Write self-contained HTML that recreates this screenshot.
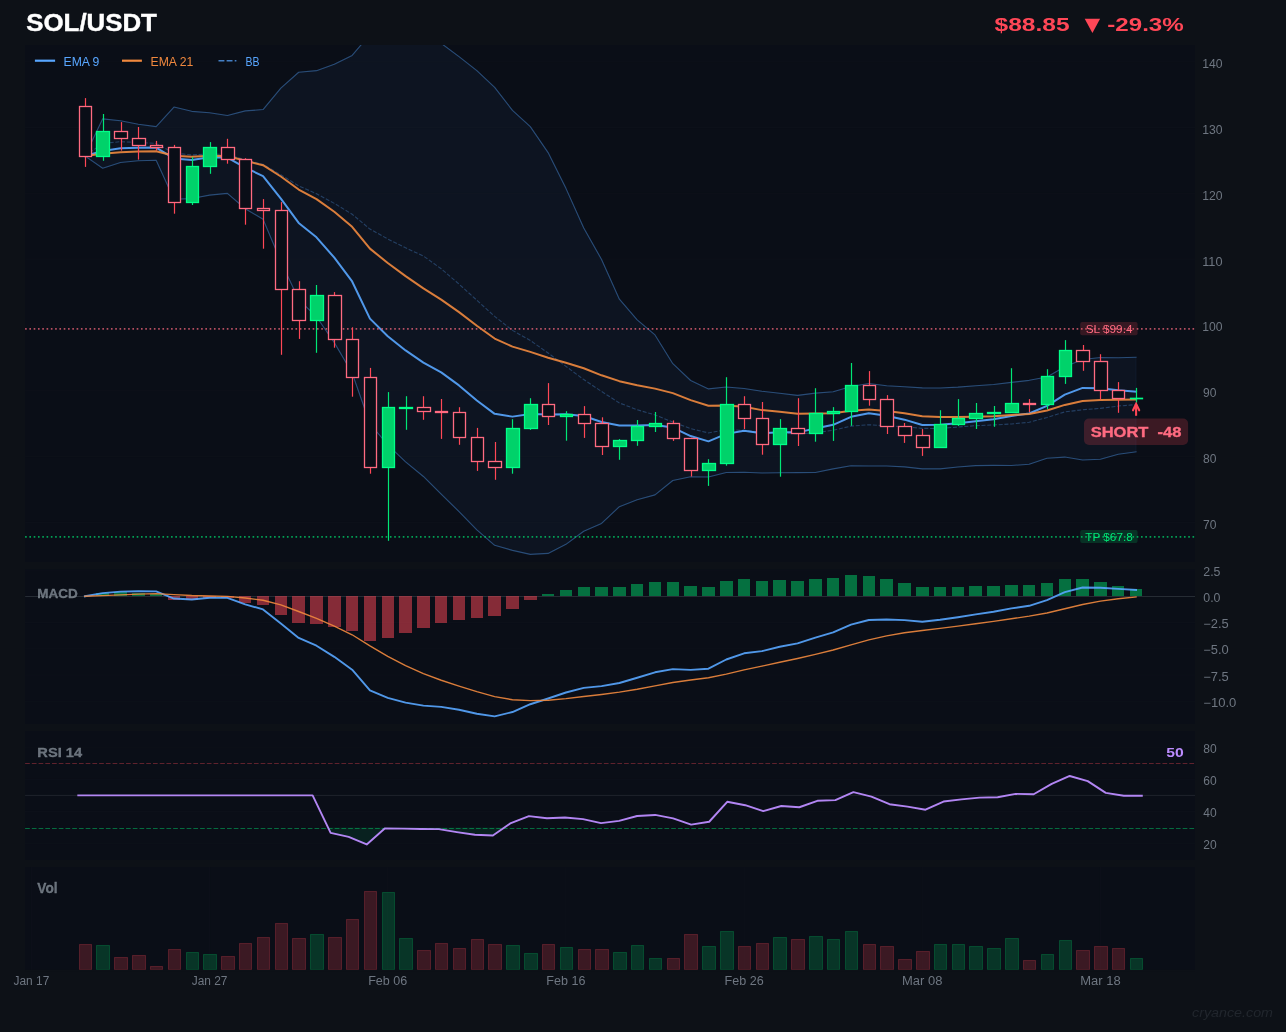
<!DOCTYPE html>
<html><head><meta charset="utf-8"><title>SOL/USDT</title>
<style>html,body{margin:0;padding:0;background:#0d1117;}svg{display:block;will-change:transform}</style></head>
<body>
<svg width="1286" height="1032" viewBox="0 0 1286 1032" font-family="Liberation Sans, sans-serif">
<rect width="1286" height="1032" fill="#0d1117"/>
<rect x="25" y="45" width="1170" height="517" fill="#0a0e17"/>
<rect x="25" y="569" width="1170" height="155" fill="#0a0e17"/>
<rect x="25" y="731" width="1170" height="129" fill="#0a0e17"/>
<rect x="25" y="867" width="1170" height="103" fill="#0a0e17"/>
<line x1="25.1" x2="1195.0" y1="522.37" y2="522.37" stroke="#0e121b" stroke-width="0.8"/>
<text x="1203" y="528.87" font-size="12" fill="#6e7681" textLength="13.4" lengthAdjust="spacingAndGlyphs">70</text>
<line x1="25.1" x2="1195.0" y1="456.57" y2="456.57" stroke="#0e121b" stroke-width="0.8"/>
<text x="1203" y="463.07" font-size="12" fill="#6e7681" textLength="13.4" lengthAdjust="spacingAndGlyphs">80</text>
<line x1="25.1" x2="1195.0" y1="390.76" y2="390.76" stroke="#0e121b" stroke-width="0.8"/>
<text x="1203" y="397.26" font-size="12" fill="#6e7681" textLength="13.4" lengthAdjust="spacingAndGlyphs">90</text>
<line x1="25.1" x2="1195.0" y1="324.95" y2="324.95" stroke="#0e121b" stroke-width="0.8"/>
<text x="1202.2" y="331.45" font-size="12" fill="#6e7681" textLength="20.3" lengthAdjust="spacingAndGlyphs">100</text>
<line x1="25.1" x2="1195.0" y1="259.14" y2="259.14" stroke="#0e121b" stroke-width="0.8"/>
<text x="1202.2" y="265.64" font-size="12" fill="#6e7681" textLength="20.3" lengthAdjust="spacingAndGlyphs">110</text>
<line x1="25.1" x2="1195.0" y1="193.34" y2="193.34" stroke="#0e121b" stroke-width="0.8"/>
<text x="1202.2" y="199.84" font-size="12" fill="#6e7681" textLength="20.3" lengthAdjust="spacingAndGlyphs">120</text>
<line x1="25.1" x2="1195.0" y1="127.53" y2="127.53" stroke="#0e121b" stroke-width="0.8"/>
<text x="1202.2" y="134.03" font-size="12" fill="#6e7681" textLength="20.3" lengthAdjust="spacingAndGlyphs">130</text>
<line x1="25.1" x2="1195.0" y1="61.72" y2="61.72" stroke="#0e121b" stroke-width="0.8"/>
<text x="1202.2" y="68.22" font-size="12" fill="#6e7681" textLength="20.3" lengthAdjust="spacingAndGlyphs">140</text>
<clipPath id="cm"><rect x="25.1" y="45.1" width="1169.9" height="516.8"/></clipPath>
<g clip-path="url(#cm)">
<path d="M84.88 155.9 L102.69 118.85 L120.51 120.81 L138.33 124.18 L156.14 126.63 L173.96 107.01 L191.78 111.34 L209.59 112.76 L227.41 115.53 L245.23 110.89 L263.04 109.54 L280.86 88.1 L298.68 72.27 L316.49 70.66 L334.31 64.15 L352.13 55.41 L369.95 34.42 L387.76 33.01 L405.58 33.73 L423.4 35.51 L441.21 43.37 L459.03 56.57 L476.85 70.65 L494.66 87.43 L512.48 110.41 L530.3 126.59 L548.11 152.59 L565.93 188.37 L583.75 227.92 L601.56 259.5 L619.38 299.23 L637.2 319.87 L655.01 334.95 L672.83 363.67 L690.65 380.49 L708.46 388.9 L726.28 386.94 L744.1 388.44 L761.91 391.26 L779.73 393.18 L797.55 395.42 L815.37 393.13 L833.18 391.71 L851 386.58 L868.82 383.43 L886.63 385.69 L904.45 386.7 L922.27 387.92 L940.08 387.98 L957.9 387.13 L975.72 385.74 L993.53 384.57 L1011.35 382.42 L1029.17 380.33 L1046.98 376.92 L1064.8 366.72 L1082.62 359.49 L1100.43 357.53 L1118.25 357.8 L1136.07 357.24 L1136.07 451.88 L1118.25 454.32 L1100.43 459.2 L1082.62 460.03 L1064.8 457.08 L1046.98 458.18 L1029.17 464.2 L1011.35 465.55 L993.53 465.4 L975.72 465.63 L957.9 466.94 L940.08 468.92 L922.27 468.9 L904.45 466.85 L886.63 465.97 L868.82 466 L851 465.72 L833.18 468.84 L815.37 472.48 L797.55 472.65 L779.73 472.79 L761.91 473.04 L744.1 472.18 L726.28 472.56 L708.46 476.93 L690.65 476.76 L672.83 480.49 L655.01 494.88 L637.2 499.68 L619.38 506.67 L601.56 523.43 L583.75 531.21 L565.93 544.34 L548.11 553.41 L530.3 554.37 L512.48 550.36 L494.66 545.3 L476.85 529.85 L459.03 511.61 L441.21 494.2 L423.4 476.46 L405.58 461.91 L387.76 444.91 L369.95 423.77 L352.13 373.03 L334.31 342.61 L316.49 316.73 L298.68 299.56 L280.86 261.4 L263.04 219.17 L245.23 208.71 L227.41 193.38 L209.59 195.09 L191.78 198.58 L173.96 199.29 L156.14 160.21 L138.33 160.72 L120.51 162.53 L102.69 168.25 L84.88 155.9Z" fill="#58a6ff" fill-opacity="0.045" stroke="#58a6ff" stroke-opacity="0.045" stroke-width="1.4"/>
<path d="M84.88 155.9 L102.69 118.85 L120.51 120.81 L138.33 124.18 L156.14 126.63 L173.96 107.01 L191.78 111.34 L209.59 112.76 L227.41 115.53 L245.23 110.89 L263.04 109.54 L280.86 88.1 L298.68 72.27 L316.49 70.66 L334.31 64.15 L352.13 55.41 L369.95 34.42 L387.76 33.01 L405.58 33.73 L423.4 35.51 L441.21 43.37 L459.03 56.57 L476.85 70.65 L494.66 87.43 L512.48 110.41 L530.3 126.59 L548.11 152.59 L565.93 188.37 L583.75 227.92 L601.56 259.5 L619.38 299.23 L637.2 319.87 L655.01 334.95 L672.83 363.67 L690.65 380.49 L708.46 388.9 L726.28 386.94 L744.1 388.44 L761.91 391.26 L779.73 393.18 L797.55 395.42 L815.37 393.13 L833.18 391.71 L851 386.58 L868.82 383.43 L886.63 385.69 L904.45 386.7 L922.27 387.92 L940.08 387.98 L957.9 387.13 L975.72 385.74 L993.53 384.57 L1011.35 382.42 L1029.17 380.33 L1046.98 376.92 L1064.8 366.72 L1082.62 359.49 L1100.43 357.53 L1118.25 357.8 L1136.07 357.24" fill="none" stroke="#58a6ff" stroke-opacity="0.38" stroke-width="1.1" stroke-linejoin="round" stroke-linecap="square"/>
<path d="M84.88 155.9 L102.69 168.25 L120.51 162.53 L138.33 160.72 L156.14 160.21 L173.96 199.29 L191.78 198.58 L209.59 195.09 L227.41 193.38 L245.23 208.71 L263.04 219.17 L280.86 261.4 L298.68 299.56 L316.49 316.73 L334.31 342.61 L352.13 373.03 L369.95 423.77 L387.76 444.91 L405.58 461.91 L423.4 476.46 L441.21 494.2 L459.03 511.61 L476.85 529.85 L494.66 545.3 L512.48 550.36 L530.3 554.37 L548.11 553.41 L565.93 544.34 L583.75 531.21 L601.56 523.43 L619.38 506.67 L637.2 499.68 L655.01 494.88 L672.83 480.49 L690.65 476.76 L708.46 476.93 L726.28 472.56 L744.1 472.18 L761.91 473.04 L779.73 472.79 L797.55 472.65 L815.37 472.48 L833.18 468.84 L851 465.72 L868.82 466 L886.63 465.97 L904.45 466.85 L922.27 468.9 L940.08 468.92 L957.9 466.94 L975.72 465.63 L993.53 465.4 L1011.35 465.55 L1029.17 464.2 L1046.98 458.18 L1064.8 457.08 L1082.62 460.03 L1100.43 459.2 L1118.25 454.32 L1136.07 451.88" fill="none" stroke="#58a6ff" stroke-opacity="0.38" stroke-width="1.1" stroke-linejoin="round" stroke-linecap="square"/>
<path d="M84.88 155.9 L102.69 143.55 L120.51 141.67 L138.33 142.45 L156.14 143.42 L173.96 153.15 L191.78 154.96 L209.59 153.92 L227.41 154.46 L245.23 159.8 L263.04 164.35 L280.86 174.75 L298.68 185.92 L316.49 193.69 L334.31 203.38 L352.13 214.22 L369.95 229.09 L387.76 238.96 L405.58 247.82 L423.4 255.99 L441.21 268.79 L459.03 284.09 L476.85 300.25 L494.66 316.37 L512.48 330.39 L530.3 340.48 L548.11 353 L565.93 366.35 L583.75 379.57 L601.56 391.46 L619.38 402.95 L637.2 409.77 L655.01 414.92 L672.83 422.08 L690.65 428.62 L708.46 432.92 L726.28 429.75 L744.1 430.31 L761.91 432.15 L779.73 432.98 L797.55 434.04 L815.37 432.81 L833.18 430.27 L851 426.15 L868.82 424.72 L886.63 425.83 L904.45 426.77 L922.27 428.41 L940.08 428.45 L957.9 427.03 L975.72 425.68 L993.53 424.98 L1011.35 423.99 L1029.17 422.26 L1046.98 417.55 L1064.8 411.9 L1082.62 409.76 L1100.43 408.36 L1118.25 406.06 L1136.07 404.56" fill="none" stroke="#58a6ff" stroke-opacity="0.3" stroke-width="1.1" stroke-dasharray="4 1.73"/>
<path d="M84.88 155.9 L102.69 150.96 L120.51 148.35 L138.33 147.64 L156.14 147.57 L173.96 158.42 L191.78 159.89 L209.59 157.25 L227.41 157.54 L245.23 167.61 L263.04 176.07 L280.86 198.68 L298.68 222.92 L316.49 237.3 L334.31 257.64 L352.13 281.47 L369.95 318.6 L387.76 336.22 L405.58 350.43 L423.4 362.57 L441.21 372.43 L459.03 385.41 L476.85 400.55 L494.66 413.86 L512.48 416.63 L530.3 414.04 L548.11 414.47 L565.93 414.34 L583.75 416.05 L601.56 422.02 L619.38 425.54 L637.2 425.55 L655.01 424.98 L672.83 427.6 L690.65 436.06 L708.46 441.37 L726.28 433.86 L744.1 430.66 L761.91 433.35 L779.73 432.24 L797.55 432.37 L815.37 428.44 L833.18 424.85 L851 416.8 L868.82 413.24 L886.63 415.79 L904.45 419.65 L922.27 425.02 L940.08 424.76 L957.9 423.33 L975.72 421.18 L993.53 419.27 L1011.35 415.95 L1029.17 413.5 L1046.98 405.92 L1064.8 394.66 L1082.62 387.93 L1100.43 388.34 L1118.25 390.27 L1136.07 391.78" fill="none" stroke="#58a6ff" stroke-opacity="0.9" stroke-width="2" stroke-linejoin="round" stroke-linecap="square"/>
<path d="M84.88 155.9 L102.69 153.65 L120.51 152.22 L138.33 151.55 L156.14 151.16 L173.96 155.76 L191.78 156.68 L209.59 155.77 L227.41 156.04 L245.23 160.75 L263.04 165.22 L280.86 176.48 L298.68 189.52 L316.49 199.09 L334.31 211.81 L352.13 226.81 L369.95 248.65 L387.76 263.02 L405.58 276.14 L423.4 288.41 L441.21 299.63 L459.03 312.15 L476.85 325.69 L494.66 338.55 L512.48 346.65 L530.3 351.84 L548.11 357.69 L565.93 362.79 L583.75 368.25 L601.56 375.31 L619.38 381.16 L637.2 385.2 L655.01 388.61 L672.83 393.11 L690.65 400.09 L708.46 405.77 L726.28 405.59 L744.1 406.71 L761.91 410.11 L779.73 411.72 L797.55 413.64 L815.37 413.56 L833.18 413.28 L851 410.67 L868.82 409.61 L886.63 411.1 L904.45 413.28 L922.27 416.3 L940.08 416.97 L957.9 417.03 L975.72 416.63 L993.53 416.17 L1011.35 414.95 L1029.17 413.92 L1046.98 410.44 L1064.8 404.91 L1082.62 400.92 L1100.43 399.93 L1118.25 399.75 L1136.07 399.57" fill="none" stroke="#f0883e" stroke-opacity="0.9" stroke-width="2" stroke-linejoin="round" stroke-linecap="square"/>
<line x1="25.1" x2="1195.0" y1="328.9" y2="328.9" stroke="#ff6b81" stroke-opacity="0.7" stroke-width="1.6" stroke-dasharray="1.62 2.672"/>
<line x1="25.1" x2="1195.0" y1="536.9" y2="536.9" stroke="#00d26a" stroke-opacity="0.75" stroke-width="1.6" stroke-dasharray="1.62 2.672"/>
<line x1="85.5" x2="85.5" y1="98.1" y2="166.9" stroke="#ff4757" stroke-width="1.2"/>
<rect x="79.5" y="106.5" width="12" height="50" fill="#0a0e17" stroke="#ff6b81" stroke-width="1.3"/>
<line x1="103.5" x2="103.5" y1="114" y2="160.8" stroke="#00e676" stroke-width="1.2"/>
<rect x="96.5" y="131.5" width="13" height="25" fill="#00d26a" stroke="#00ff88" stroke-width="1.3"/>
<line x1="121.5" x2="121.5" y1="122.1" y2="150.6" stroke="#ff4757" stroke-width="1.2"/>
<rect x="114.5" y="131.5" width="13" height="7" fill="#0a0e17" stroke="#ff6b81" stroke-width="1.3"/>
<line x1="138.5" x2="138.5" y1="127" y2="159.6" stroke="#ff4757" stroke-width="1.2"/>
<rect x="132.5" y="138.5" width="13" height="7" fill="#0a0e17" stroke="#ff6b81" stroke-width="1.3"/>
<line x1="156.5" x2="156.5" y1="140.9" y2="150.6" stroke="#ff4757" stroke-width="1.2"/>
<rect x="150.5" y="145.5" width="12" height="2" fill="#0a0e17" stroke="#ff6b81" stroke-width="1.3"/>
<line x1="174.5" x2="174.5" y1="144.9" y2="213.7" stroke="#ff4757" stroke-width="1.2"/>
<rect x="168.5" y="147.5" width="12" height="55" fill="#0a0e17" stroke="#ff6b81" stroke-width="1.3"/>
<line x1="192.5" x2="192.5" y1="157.1" y2="205" stroke="#00e676" stroke-width="1.2"/>
<rect x="186.5" y="166.5" width="12" height="36" fill="#00d26a" stroke="#00ff88" stroke-width="1.3"/>
<line x1="210.5" x2="210.5" y1="142.1" y2="173.8" stroke="#00e676" stroke-width="1.2"/>
<rect x="203.5" y="147.5" width="13" height="19" fill="#00d26a" stroke="#00ff88" stroke-width="1.3"/>
<line x1="227.5" x2="227.5" y1="138.8" y2="163.7" stroke="#ff4757" stroke-width="1.2"/>
<rect x="221.5" y="147.5" width="13" height="12" fill="#0a0e17" stroke="#ff6b81" stroke-width="1.3"/>
<line x1="245.5" x2="245.5" y1="158.2" y2="224.7" stroke="#ff4757" stroke-width="1.2"/>
<rect x="239.5" y="159.5" width="12" height="49" fill="#0a0e17" stroke="#ff6b81" stroke-width="1.3"/>
<line x1="263.5" x2="263.5" y1="199.1" y2="248.7" stroke="#ff4757" stroke-width="1.2"/>
<rect x="257.5" y="208.5" width="12" height="2" fill="#0a0e17" stroke="#ff6b81" stroke-width="1.3"/>
<line x1="281.5" x2="281.5" y1="202.1" y2="354.8" stroke="#ff4757" stroke-width="1.2"/>
<rect x="275.5" y="210.5" width="12" height="79" fill="#0a0e17" stroke="#ff6b81" stroke-width="1.3"/>
<line x1="299.5" x2="299.5" y1="281.2" y2="338.9" stroke="#ff4757" stroke-width="1.2"/>
<rect x="292.5" y="289.5" width="13" height="31" fill="#0a0e17" stroke="#ff6b81" stroke-width="1.3"/>
<line x1="316.5" x2="316.5" y1="285" y2="352.8" stroke="#00e676" stroke-width="1.2"/>
<rect x="310.5" y="295.5" width="13" height="25" fill="#00d26a" stroke="#00ff88" stroke-width="1.3"/>
<line x1="334.5" x2="334.5" y1="292.1" y2="347.7" stroke="#ff4757" stroke-width="1.2"/>
<rect x="328.5" y="295.5" width="13" height="44" fill="#0a0e17" stroke="#ff6b81" stroke-width="1.3"/>
<line x1="352.5" x2="352.5" y1="327.3" y2="396.7" stroke="#ff4757" stroke-width="1.2"/>
<rect x="346.5" y="339.5" width="12" height="38" fill="#0a0e17" stroke="#ff6b81" stroke-width="1.3"/>
<line x1="370.5" x2="370.5" y1="367.9" y2="473.7" stroke="#ff4757" stroke-width="1.2"/>
<rect x="364.5" y="377.5" width="12" height="90" fill="#0a0e17" stroke="#ff6b81" stroke-width="1.3"/>
<line x1="388.5" x2="388.5" y1="392.1" y2="540.8" stroke="#00e676" stroke-width="1.2"/>
<rect x="382.5" y="407.5" width="12" height="60" fill="#00d26a" stroke="#00ff88" stroke-width="1.3"/>
<line x1="406.5" x2="406.5" y1="396.2" y2="429.8" stroke="#00e676" stroke-width="1.2"/>
<rect x="399.5" y="407.5" width="13" height="1" fill="#00d26a" stroke="#00ff88" stroke-width="1.3"/>
<line x1="423.5" x2="423.5" y1="396.2" y2="419.8" stroke="#ff4757" stroke-width="1.2"/>
<rect x="417.5" y="407.5" width="13" height="4" fill="#0a0e17" stroke="#ff6b81" stroke-width="1.3"/>
<line x1="441.5" x2="441.5" y1="399" y2="438.9" stroke="#ff4757" stroke-width="1.2"/>
<rect x="435.5" y="411.5" width="12" height="1" fill="#0a0e17" stroke="#ff6b81" stroke-width="1.3"/>
<line x1="459.5" x2="459.5" y1="407.2" y2="444.8" stroke="#ff4757" stroke-width="1.2"/>
<rect x="453.5" y="412.5" width="12" height="25" fill="#0a0e17" stroke="#ff6b81" stroke-width="1.3"/>
<line x1="477.5" x2="477.5" y1="427.9" y2="470.9" stroke="#ff4757" stroke-width="1.2"/>
<rect x="471.5" y="437.5" width="12" height="24" fill="#0a0e17" stroke="#ff6b81" stroke-width="1.3"/>
<line x1="495.5" x2="495.5" y1="442" y2="479.8" stroke="#ff4757" stroke-width="1.2"/>
<rect x="488.5" y="461.5" width="13" height="6" fill="#0a0e17" stroke="#ff6b81" stroke-width="1.3"/>
<line x1="512.5" x2="512.5" y1="419.2" y2="473.7" stroke="#00e676" stroke-width="1.2"/>
<rect x="506.5" y="428.5" width="13" height="39" fill="#00d26a" stroke="#00ff88" stroke-width="1.3"/>
<line x1="530.5" x2="530.5" y1="398.2" y2="429.9" stroke="#00e676" stroke-width="1.2"/>
<rect x="524.5" y="404.5" width="13" height="24" fill="#00d26a" stroke="#00ff88" stroke-width="1.3"/>
<line x1="548.5" x2="548.5" y1="383.1" y2="425" stroke="#ff4757" stroke-width="1.2"/>
<rect x="542.5" y="404.5" width="12" height="12" fill="#0a0e17" stroke="#ff6b81" stroke-width="1.3"/>
<line x1="566.5" x2="566.5" y1="411.2" y2="440.7" stroke="#00e676" stroke-width="1.2"/>
<rect x="560.5" y="414.5" width="12" height="2" fill="#00d26a" stroke="#00ff88" stroke-width="1.3"/>
<line x1="584.5" x2="584.5" y1="406.1" y2="437.9" stroke="#ff4757" stroke-width="1.2"/>
<rect x="578.5" y="414.5" width="12" height="9" fill="#0a0e17" stroke="#ff6b81" stroke-width="1.3"/>
<line x1="602.5" x2="602.5" y1="417.3" y2="455" stroke="#ff4757" stroke-width="1.2"/>
<rect x="595.5" y="423.5" width="13" height="23" fill="#0a0e17" stroke="#ff6b81" stroke-width="1.3"/>
<line x1="619.5" x2="619.5" y1="439.1" y2="459.8" stroke="#00e676" stroke-width="1.2"/>
<rect x="613.5" y="440.5" width="13" height="6" fill="#00d26a" stroke="#00ff88" stroke-width="1.3"/>
<line x1="637.5" x2="637.5" y1="420" y2="445.8" stroke="#00e676" stroke-width="1.2"/>
<rect x="631.5" y="426.5" width="12" height="14" fill="#00d26a" stroke="#00ff88" stroke-width="1.3"/>
<line x1="655.5" x2="655.5" y1="412" y2="432" stroke="#00e676" stroke-width="1.2"/>
<rect x="649.5" y="423.5" width="12" height="3" fill="#00d26a" stroke="#00ff88" stroke-width="1.3"/>
<line x1="673.5" x2="673.5" y1="420.4" y2="440.9" stroke="#ff4757" stroke-width="1.2"/>
<rect x="667.5" y="423.5" width="12" height="15" fill="#0a0e17" stroke="#ff6b81" stroke-width="1.3"/>
<line x1="691.5" x2="691.5" y1="437.7" y2="476.5" stroke="#ff4757" stroke-width="1.2"/>
<rect x="684.5" y="438.5" width="13" height="32" fill="#0a0e17" stroke="#ff6b81" stroke-width="1.3"/>
<line x1="708.5" x2="708.5" y1="459.2" y2="485.9" stroke="#00e676" stroke-width="1.2"/>
<rect x="702.5" y="463.5" width="13" height="7" fill="#00d26a" stroke="#00ff88" stroke-width="1.3"/>
<line x1="726.5" x2="726.5" y1="377.2" y2="465.7" stroke="#00e676" stroke-width="1.2"/>
<rect x="720.5" y="404.5" width="13" height="59" fill="#00d26a" stroke="#00ff88" stroke-width="1.3"/>
<line x1="744.5" x2="744.5" y1="396.2" y2="429" stroke="#ff4757" stroke-width="1.2"/>
<rect x="738.5" y="404.5" width="12" height="14" fill="#0a0e17" stroke="#ff6b81" stroke-width="1.3"/>
<line x1="762.5" x2="762.5" y1="402" y2="454.7" stroke="#ff4757" stroke-width="1.2"/>
<rect x="756.5" y="418.5" width="12" height="26" fill="#0a0e17" stroke="#ff6b81" stroke-width="1.3"/>
<line x1="780.5" x2="780.5" y1="419.1" y2="476.7" stroke="#00e676" stroke-width="1.2"/>
<rect x="773.5" y="428.5" width="13" height="16" fill="#00d26a" stroke="#00ff88" stroke-width="1.3"/>
<line x1="798.5" x2="798.5" y1="398.2" y2="446" stroke="#ff4757" stroke-width="1.2"/>
<rect x="791.5" y="428.5" width="13" height="5" fill="#0a0e17" stroke="#ff6b81" stroke-width="1.3"/>
<line x1="815.5" x2="815.5" y1="388.2" y2="441.7" stroke="#00e676" stroke-width="1.2"/>
<rect x="809.5" y="413.5" width="13" height="20" fill="#00d26a" stroke="#00ff88" stroke-width="1.3"/>
<line x1="833.5" x2="833.5" y1="407.1" y2="440.9" stroke="#00e676" stroke-width="1.2"/>
<rect x="827.5" y="411.5" width="12" height="2" fill="#00d26a" stroke="#00ff88" stroke-width="1.3"/>
<line x1="851.5" x2="851.5" y1="363" y2="425.8" stroke="#00e676" stroke-width="1.2"/>
<rect x="845.5" y="385.5" width="12" height="26" fill="#00d26a" stroke="#00ff88" stroke-width="1.3"/>
<line x1="869.5" x2="869.5" y1="371.1" y2="405.7" stroke="#ff4757" stroke-width="1.2"/>
<rect x="863.5" y="385.5" width="12" height="14" fill="#0a0e17" stroke="#ff6b81" stroke-width="1.3"/>
<line x1="887.5" x2="887.5" y1="395.1" y2="434" stroke="#ff4757" stroke-width="1.2"/>
<rect x="880.5" y="399.5" width="13" height="27" fill="#0a0e17" stroke="#ff6b81" stroke-width="1.3"/>
<line x1="904.5" x2="904.5" y1="423" y2="442.9" stroke="#ff4757" stroke-width="1.2"/>
<rect x="898.5" y="426.5" width="13" height="9" fill="#0a0e17" stroke="#ff6b81" stroke-width="1.3"/>
<line x1="922.5" x2="922.5" y1="429.1" y2="455.9" stroke="#ff4757" stroke-width="1.2"/>
<rect x="916.5" y="435.5" width="13" height="12" fill="#0a0e17" stroke="#ff6b81" stroke-width="1.3"/>
<line x1="940.5" x2="940.5" y1="410.2" y2="447" stroke="#00e676" stroke-width="1.2"/>
<rect x="934.5" y="424.5" width="12" height="23" fill="#00d26a" stroke="#00ff88" stroke-width="1.3"/>
<line x1="958.5" x2="958.5" y1="399.1" y2="426" stroke="#00e676" stroke-width="1.2"/>
<rect x="952.5" y="418.5" width="12" height="6" fill="#00d26a" stroke="#00ff88" stroke-width="1.3"/>
<line x1="976.5" x2="976.5" y1="403" y2="429" stroke="#00e676" stroke-width="1.2"/>
<rect x="969.5" y="413.5" width="13" height="5" fill="#00d26a" stroke="#00ff88" stroke-width="1.3"/>
<line x1="994.5" x2="994.5" y1="406" y2="426.8" stroke="#00e676" stroke-width="1.2"/>
<rect x="987.5" y="412.5" width="13" height="1" fill="#00d26a" stroke="#00ff88" stroke-width="1.3"/>
<line x1="1011.5" x2="1011.5" y1="368.2" y2="412.7" stroke="#00e676" stroke-width="1.2"/>
<rect x="1005.5" y="403.5" width="13" height="9" fill="#00d26a" stroke="#00ff88" stroke-width="1.3"/>
<line x1="1029.5" x2="1029.5" y1="399.1" y2="412.1" stroke="#ff4757" stroke-width="1.2"/>
<rect x="1023.5" y="403.5" width="12" height="1" fill="#0a0e17" stroke="#ff6b81" stroke-width="1.3"/>
<line x1="1047.5" x2="1047.5" y1="369.2" y2="409.1" stroke="#00e676" stroke-width="1.2"/>
<rect x="1041.5" y="376.5" width="12" height="28" fill="#00d26a" stroke="#00ff88" stroke-width="1.3"/>
<line x1="1065.5" x2="1065.5" y1="340.1" y2="383.9" stroke="#00e676" stroke-width="1.2"/>
<rect x="1059.5" y="350.5" width="12" height="26" fill="#00d26a" stroke="#00ff88" stroke-width="1.3"/>
<line x1="1083.5" x2="1083.5" y1="345" y2="370.8" stroke="#ff4757" stroke-width="1.2"/>
<rect x="1076.5" y="350.5" width="13" height="11" fill="#0a0e17" stroke="#ff6b81" stroke-width="1.3"/>
<line x1="1100.5" x2="1100.5" y1="354.2" y2="399.5" stroke="#ff4757" stroke-width="1.2"/>
<rect x="1094.5" y="361.5" width="13" height="29" fill="#0a0e17" stroke="#ff6b81" stroke-width="1.3"/>
<line x1="1118.5" x2="1118.5" y1="382.1" y2="412.8" stroke="#ff4757" stroke-width="1.2"/>
<rect x="1112.5" y="390.5" width="12" height="8" fill="#0a0e17" stroke="#ff6b81" stroke-width="1.3"/>
<line x1="1136.5" x2="1136.5" y1="387.9" y2="402.7" stroke="#00e676" stroke-width="1.2"/>
<rect x="1129.85" y="397.65" width="13.3" height="1.7" fill="#00ff88"/>
</g>
<rect x="1080.2" y="322" width="57.4" height="13.2" rx="2" fill="#ff4757" fill-opacity="0.18"/>
<text x="1085.7" y="333.1" font-size="11.4" fill="#ff6b81" textLength="46.8" lengthAdjust="spacingAndGlyphs">SL $99.4</text>
<rect x="1080.2" y="530.1" width="57.4" height="13" rx="2" fill="#00d26a" fill-opacity="0.18"/>
<text x="1085.3" y="541" font-size="11.4" fill="#00e676" textLength="47.4" lengthAdjust="spacingAndGlyphs">TP $67.8</text>
<g stroke="#ff4757" stroke-width="2.1" fill="none" stroke-linecap="butt" stroke-linejoin="miter"><path d="M1136.1 415.8 L1136.1 404.5"/><path d="M1133 410.3 L1136.1 403.9 L1139.2 410.3" stroke-linecap="round"/></g>
<rect x="1084" y="418.6" width="104.1" height="26.3" rx="5" fill="#ff4757" fill-opacity="0.2"/>
<text x="1090.7" y="436.9" font-size="14" font-weight="bold" fill="#ff6b81" stroke="#ff6b81" stroke-width="0.35" textLength="90.7" lengthAdjust="spacingAndGlyphs" xml:space="preserve">SHORT  -48</text>
<line x1="34.9" x2="55.1" y1="60.7" y2="60.7" stroke="#58a6ff" stroke-width="2.2"/>
<text x="63.5" y="66" font-size="12.7" fill="#58a6ff" textLength="35.9" lengthAdjust="spacingAndGlyphs">EMA 9</text>
<line x1="122" x2="141.9" y1="60.7" y2="60.7" stroke="#f0883e" stroke-width="2.2"/>
<text x="150.5" y="66" font-size="12.7" fill="#f0883e" textLength="42.7" lengthAdjust="spacingAndGlyphs">EMA 21</text>
<line x1="218.5" x2="236.4" y1="60.7" y2="60.7" stroke="#58a6ff" stroke-opacity="0.75" stroke-width="1.4" stroke-dasharray="5.9 2.2"/>
<text x="245.6" y="66" font-size="12.7" fill="#58a6ff" textLength="14" lengthAdjust="spacingAndGlyphs">BB</text>
<text x="26.3" y="30.7" font-size="23.5" font-weight="bold" fill="#ffffff" stroke="#ffffff" stroke-width="0.4" textLength="130.6" lengthAdjust="spacingAndGlyphs">SOL/USDT</text>
<text x="994.6" y="30.7" font-size="19.2" font-weight="bold" fill="#ff4757" textLength="75" lengthAdjust="spacingAndGlyphs">$88.85</text>
<path d="M1084.7 18.7 L1100.1 18.7 L1092.4 32.9 Z" fill="#ff4757"/>
<text x="1107.3" y="30.7" font-size="19.2" font-weight="bold" fill="#ff4757" textLength="76.4" lengthAdjust="spacingAndGlyphs">-29.3%</text>
<clipPath id="cc"><rect x="25.1" y="569.0" width="1169.9" height="154.7"/></clipPath>
<line x1="25.1" x2="1195.0" y1="570.05" y2="570.05" stroke="#0e121b" stroke-width="0.8"/>
<text x="1203.3" y="575.65" font-size="12" fill="#6e7681" textLength="17.2" lengthAdjust="spacingAndGlyphs">2.5</text>
<line x1="25.1" x2="1195.0" y1="596.3" y2="596.3" stroke="#0e121b" stroke-width="0.8"/>
<text x="1203.3" y="601.9" font-size="12" fill="#6e7681" textLength="17.2" lengthAdjust="spacingAndGlyphs">0.0</text>
<line x1="25.1" x2="1195.0" y1="622.55" y2="622.55" stroke="#0e121b" stroke-width="0.8"/>
<text x="1203.3" y="628.15" font-size="12" fill="#6e7681" textLength="25.5" lengthAdjust="spacingAndGlyphs">−2.5</text>
<line x1="25.1" x2="1195.0" y1="648.8" y2="648.8" stroke="#0e121b" stroke-width="0.8"/>
<text x="1203.3" y="654.4" font-size="12" fill="#6e7681" textLength="25.5" lengthAdjust="spacingAndGlyphs">−5.0</text>
<line x1="25.1" x2="1195.0" y1="675.05" y2="675.05" stroke="#0e121b" stroke-width="0.8"/>
<text x="1203.3" y="680.65" font-size="12" fill="#6e7681" textLength="25.5" lengthAdjust="spacingAndGlyphs">−7.5</text>
<line x1="25.1" x2="1195.0" y1="701.3" y2="701.3" stroke="#0e121b" stroke-width="0.8"/>
<text x="1203.3" y="706.9" font-size="12" fill="#6e7681" textLength="33.0" lengthAdjust="spacingAndGlyphs">−10.0</text>
<g clip-path="url(#cc)">
<line x1="25.1" x2="1195.0" y1="596.5" y2="596.5" stroke="#30363d" stroke-opacity="0.75" stroke-width="1"/>
<rect x="96" y="593" width="13" height="3" fill="#00d26a" fill-opacity="0.5"/>
<rect x="114" y="592" width="13" height="4" fill="#00d26a" fill-opacity="0.5"/>
<rect x="132" y="593" width="13" height="3" fill="#00d26a" fill-opacity="0.5"/>
<rect x="150" y="594" width="12" height="2" fill="#00d26a" fill-opacity="0.5"/>
<rect x="168" y="596" width="12" height="4" fill="#ff4757" fill-opacity="0.5"/>
<rect x="186" y="596" width="12" height="4" fill="#ff4757" fill-opacity="0.5"/>
<rect x="203" y="596" width="13" height="2" fill="#ff4757" fill-opacity="0.5"/>
<rect x="221" y="596" width="13" height="2" fill="#ff4757" fill-opacity="0.5"/>
<rect x="239" y="596" width="12" height="7" fill="#ff4757" fill-opacity="0.5"/>
<rect x="257" y="596" width="12" height="9" fill="#ff4757" fill-opacity="0.5"/>
<rect x="275" y="596" width="12" height="19" fill="#ff4757" fill-opacity="0.5"/>
<rect x="292" y="596" width="13" height="27" fill="#ff4757" fill-opacity="0.5"/>
<rect x="310" y="596" width="13" height="28" fill="#ff4757" fill-opacity="0.5"/>
<rect x="328" y="596" width="13" height="31" fill="#ff4757" fill-opacity="0.5"/>
<rect x="346" y="596" width="12" height="35" fill="#ff4757" fill-opacity="0.5"/>
<rect x="364" y="596" width="12" height="45" fill="#ff4757" fill-opacity="0.5"/>
<rect x="382" y="596" width="12" height="42" fill="#ff4757" fill-opacity="0.5"/>
<rect x="399" y="596" width="13" height="37" fill="#ff4757" fill-opacity="0.5"/>
<rect x="417" y="596" width="13" height="32" fill="#ff4757" fill-opacity="0.5"/>
<rect x="435" y="596" width="12" height="27" fill="#ff4757" fill-opacity="0.5"/>
<rect x="453" y="596" width="12" height="24" fill="#ff4757" fill-opacity="0.5"/>
<rect x="471" y="596" width="12" height="22" fill="#ff4757" fill-opacity="0.5"/>
<rect x="488" y="596" width="13" height="20" fill="#ff4757" fill-opacity="0.5"/>
<rect x="506" y="596" width="13" height="13" fill="#ff4757" fill-opacity="0.5"/>
<rect x="524" y="596" width="13" height="4" fill="#ff4757" fill-opacity="0.5"/>
<rect x="542" y="594" width="12" height="2" fill="#00d26a" fill-opacity="0.5"/>
<rect x="560" y="590" width="12" height="6" fill="#00d26a" fill-opacity="0.5"/>
<rect x="578" y="587" width="12" height="9" fill="#00d26a" fill-opacity="0.5"/>
<rect x="595" y="587" width="13" height="9" fill="#00d26a" fill-opacity="0.5"/>
<rect x="613" y="587" width="13" height="9" fill="#00d26a" fill-opacity="0.5"/>
<rect x="631" y="584" width="12" height="12" fill="#00d26a" fill-opacity="0.5"/>
<rect x="649" y="582" width="12" height="14" fill="#00d26a" fill-opacity="0.5"/>
<rect x="667" y="582" width="12" height="14" fill="#00d26a" fill-opacity="0.5"/>
<rect x="684" y="586" width="13" height="10" fill="#00d26a" fill-opacity="0.5"/>
<rect x="702" y="587" width="13" height="9" fill="#00d26a" fill-opacity="0.5"/>
<rect x="720" y="581" width="13" height="15" fill="#00d26a" fill-opacity="0.5"/>
<rect x="738" y="579" width="12" height="17" fill="#00d26a" fill-opacity="0.5"/>
<rect x="756" y="581" width="12" height="15" fill="#00d26a" fill-opacity="0.5"/>
<rect x="773" y="580" width="13" height="16" fill="#00d26a" fill-opacity="0.5"/>
<rect x="791" y="581" width="13" height="15" fill="#00d26a" fill-opacity="0.5"/>
<rect x="809" y="579" width="13" height="17" fill="#00d26a" fill-opacity="0.5"/>
<rect x="827" y="578" width="12" height="18" fill="#00d26a" fill-opacity="0.5"/>
<rect x="845" y="575" width="12" height="21" fill="#00d26a" fill-opacity="0.5"/>
<rect x="863" y="576" width="12" height="20" fill="#00d26a" fill-opacity="0.5"/>
<rect x="880" y="579" width="13" height="17" fill="#00d26a" fill-opacity="0.5"/>
<rect x="898" y="583" width="13" height="13" fill="#00d26a" fill-opacity="0.5"/>
<rect x="916" y="587" width="13" height="9" fill="#00d26a" fill-opacity="0.5"/>
<rect x="934" y="587" width="12" height="9" fill="#00d26a" fill-opacity="0.5"/>
<rect x="952" y="587" width="12" height="9" fill="#00d26a" fill-opacity="0.5"/>
<rect x="969" y="586" width="13" height="10" fill="#00d26a" fill-opacity="0.5"/>
<rect x="987" y="586" width="13" height="10" fill="#00d26a" fill-opacity="0.5"/>
<rect x="1005" y="585" width="13" height="11" fill="#00d26a" fill-opacity="0.5"/>
<rect x="1023" y="585" width="12" height="11" fill="#00d26a" fill-opacity="0.5"/>
<rect x="1041" y="583" width="12" height="13" fill="#00d26a" fill-opacity="0.5"/>
<rect x="1059" y="579" width="12" height="17" fill="#00d26a" fill-opacity="0.5"/>
<rect x="1076" y="579" width="13" height="17" fill="#00d26a" fill-opacity="0.5"/>
<rect x="1094" y="582" width="13" height="14" fill="#00d26a" fill-opacity="0.5"/>
<rect x="1112" y="586" width="12" height="10" fill="#00d26a" fill-opacity="0.5"/>
<rect x="1130" y="589" width="12" height="7" fill="#00d26a" fill-opacity="0.5"/>
<path d="M84.88 596.3 L102.69 593.16 L120.51 591.58 L138.33 591.28 L156.14 591.42 L173.96 598.52 L191.78 599.48 L209.59 597.76 L227.41 597.92 L245.23 604.3 L263.04 609.45 L280.86 623.42 L298.68 637.98 L316.49 645.72 L334.31 656.84 L352.13 669.68 L369.95 690.39 L387.76 697.86 L405.58 702.63 L423.4 705.64 L441.21 706.85 L459.03 709.78 L476.85 713.8 L494.66 716.38 L512.48 712.02 L530.3 704.23 L548.11 698.49 L565.93 692.52 L583.75 687.9 L601.56 686.17 L619.38 682.99 L637.2 677.72 L655.01 672.3 L672.83 669.15 L690.65 669.89 L708.46 668.71 L726.28 659.48 L744.1 653.31 L761.91 651.17 L779.73 646.79 L797.55 643.44 L815.37 637.7 L833.18 632.45 L851 624.63 L868.82 620.01 L886.63 619.56 L904.45 620.1 L922.27 621.71 L940.08 619.77 L957.9 617.21 L975.72 614.33 L993.53 611.74 L1011.35 608.4 L1029.17 605.78 L1046.98 600.03 L1064.8 592.18 L1082.62 587.53 L1100.43 587.68 L1118.25 588.91 L1136.07 589.93" fill="none" stroke="#58a6ff" stroke-opacity="0.9" stroke-width="1.9" stroke-linejoin="round" stroke-linecap="square"/>
<path d="M84.88 596.3 L102.69 595.67 L120.51 594.85 L138.33 594.14 L156.14 593.59 L173.96 594.58 L191.78 595.56 L209.59 596 L227.41 596.38 L245.23 597.97 L263.04 600.26 L280.86 604.9 L298.68 611.51 L316.49 618.35 L334.31 626.05 L352.13 634.78 L369.95 645.9 L387.76 656.29 L405.58 665.56 L423.4 673.57 L441.21 680.23 L459.03 686.14 L476.85 691.67 L494.66 696.61 L512.48 699.7 L530.3 700.6 L548.11 700.18 L565.93 698.65 L583.75 696.5 L601.56 694.43 L619.38 692.14 L637.2 689.26 L655.01 685.87 L672.83 682.52 L690.65 680 L708.46 677.74 L726.28 674.09 L744.1 669.93 L761.91 666.18 L779.73 662.3 L797.55 658.53 L815.37 654.36 L833.18 649.98 L851 644.91 L868.82 639.93 L886.63 635.86 L904.45 632.71 L922.27 630.51 L940.08 628.36 L957.9 626.13 L975.72 623.77 L993.53 621.36 L1011.35 618.77 L1029.17 616.17 L1046.98 612.95 L1064.8 608.79 L1082.62 604.54 L1100.43 601.17 L1118.25 598.72 L1136.07 596.96" fill="none" stroke="#f0883e" stroke-width="1.4" stroke-linejoin="round" stroke-linecap="square" stroke-opacity="0.9"/>
</g>
<text x="37.3" y="598.4" font-size="13.5" font-weight="bold" fill="#8b949e" fill-opacity="0.74" stroke="#8b949e" stroke-opacity="0.74" stroke-width="0.3" textLength="40.5" lengthAdjust="spacingAndGlyphs">MACD</text>
<line x1="25.1" x2="1195.0" y1="843.62" y2="843.62" stroke="#0e121b" stroke-width="0.8"/>
<text x="1203.3" y="849.23" font-size="12" fill="#6e7681" textLength="13.4" lengthAdjust="spacingAndGlyphs">20</text>
<line x1="25.1" x2="1195.0" y1="811.48" y2="811.48" stroke="#0e121b" stroke-width="0.8"/>
<text x="1203.3" y="817.08" font-size="12" fill="#6e7681" textLength="13.4" lengthAdjust="spacingAndGlyphs">40</text>
<line x1="25.1" x2="1195.0" y1="779.32" y2="779.32" stroke="#0e121b" stroke-width="0.8"/>
<text x="1203.3" y="784.92" font-size="12" fill="#6e7681" textLength="13.4" lengthAdjust="spacingAndGlyphs">60</text>
<line x1="25.1" x2="1195.0" y1="747.17" y2="747.17" stroke="#0e121b" stroke-width="0.8"/>
<text x="1203.3" y="752.77" font-size="12" fill="#6e7681" textLength="13.4" lengthAdjust="spacingAndGlyphs">80</text>
<line x1="25.1" x2="1195.0" y1="795.4" y2="795.4" stroke="#30363d" stroke-opacity="0.6" stroke-width="0.9"/>
<line x1="25.1" x2="1195.0" y1="763.5" y2="763.5" stroke="#ff4757" stroke-opacity="0.35" stroke-width="1.2" stroke-dasharray="4.7 2.03"/>
<line x1="25.1" x2="1195.0" y1="828.5" y2="828.5" stroke="#00d26a" stroke-opacity="0.48" stroke-width="1.2" stroke-dasharray="4.7 2.03"/>
<path d="M328.09 827.55 L330.64 832.86 L348.67 836.89 L366.7 844.45 L384.72 828.54 L402.75 828.61 L420.77 829.02 L438.8 829.12 L456.83 832.12 L474.85 834.78 L492.88 835.44 L504.33 827.55Z" fill="#00d26a" fill-opacity="0.1"/>
<path d="M78.28 795.4 L96.3 795.4 L114.33 795.4 L132.36 795.4 L150.38 795.4 L168.41 795.4 L186.43 795.4 L204.46 795.4 L222.49 795.4 L240.51 795.4 L258.54 795.4 L276.57 795.4 L294.59 795.4 L312.62 795.4 L330.64 832.86 L348.67 836.89 L366.7 844.45 L384.72 828.54 L402.75 828.61 L420.77 829.02 L438.8 829.12 L456.83 832.12 L474.85 834.78 L492.88 835.44 L510.91 823.02 L528.93 816.18 L546.96 818.22 L564.98 817.49 L583.01 819.12 L601.04 823.13 L619.06 820.92 L637.09 815.98 L655.12 814.94 L673.14 818.33 L691.17 824.65 L709.19 821.75 L727.22 801.8 L745.25 805.21 L763.27 811.16 L781.3 806.02 L799.33 807.25 L817.35 800.78 L835.38 800.08 L853.4 792.1 L871.43 796.55 L889.46 804.23 L907.48 806.67 L925.51 809.7 L943.53 801.52 L961.56 799.43 L979.59 797.66 L997.61 797.28 L1015.64 793.88 L1033.67 794.29 L1051.69 783.92 L1069.72 775.97 L1087.74 781.13 L1105.77 792.86 L1123.8 795.81 L1141.82 795.73" fill="none" stroke="#bc8cff" stroke-opacity="0.95" stroke-width="1.9" stroke-linejoin="round" stroke-linecap="square"/>
<text x="37.3" y="757.3" font-size="13.5" font-weight="bold" fill="#8b949e" fill-opacity="0.74" stroke="#8b949e" stroke-opacity="0.74" stroke-width="0.3" textLength="44.8" lengthAdjust="spacingAndGlyphs">RSI 14</text>
<text x="1166.2" y="757.3" font-size="13.5" font-weight="bold" fill="#bc8cff" textLength="17.5" lengthAdjust="spacingAndGlyphs">50</text>
<line x1="31.43" x2="31.43" y1="867.2" y2="969.8" stroke="#0e121b" stroke-width="0.8"/>
<line x1="209.59" x2="209.59" y1="867.2" y2="969.8" stroke="#0e121b" stroke-width="0.8"/>
<line x1="387.76" x2="387.76" y1="867.2" y2="969.8" stroke="#0e121b" stroke-width="0.8"/>
<line x1="565.93" x2="565.93" y1="867.2" y2="969.8" stroke="#0e121b" stroke-width="0.8"/>
<line x1="744.1" x2="744.1" y1="867.2" y2="969.8" stroke="#0e121b" stroke-width="0.8"/>
<line x1="922.27" x2="922.27" y1="867.2" y2="969.8" stroke="#0e121b" stroke-width="0.8"/>
<line x1="1100.43" x2="1100.43" y1="867.2" y2="969.8" stroke="#0e121b" stroke-width="0.8"/>
<rect x="79.5" y="944.5" width="12" height="25.3" fill="#ff4757" fill-opacity="0.2" stroke="#ff4757" stroke-opacity="0.24" stroke-width="1.1"/>
<rect x="96.5" y="945.5" width="13" height="24.3" fill="#00d26a" fill-opacity="0.2" stroke="#00d26a" stroke-opacity="0.24" stroke-width="1.1"/>
<rect x="114.5" y="957.5" width="13" height="12.3" fill="#ff4757" fill-opacity="0.2" stroke="#ff4757" stroke-opacity="0.24" stroke-width="1.1"/>
<rect x="132.5" y="955.5" width="13" height="14.3" fill="#ff4757" fill-opacity="0.2" stroke="#ff4757" stroke-opacity="0.24" stroke-width="1.1"/>
<rect x="150.5" y="966.5" width="12" height="3.3" fill="#ff4757" fill-opacity="0.2" stroke="#ff4757" stroke-opacity="0.24" stroke-width="1.1"/>
<rect x="168.5" y="949.5" width="12" height="20.3" fill="#ff4757" fill-opacity="0.2" stroke="#ff4757" stroke-opacity="0.24" stroke-width="1.1"/>
<rect x="186.5" y="952.5" width="12" height="17.3" fill="#00d26a" fill-opacity="0.2" stroke="#00d26a" stroke-opacity="0.24" stroke-width="1.1"/>
<rect x="203.5" y="954.5" width="13" height="15.3" fill="#00d26a" fill-opacity="0.2" stroke="#00d26a" stroke-opacity="0.24" stroke-width="1.1"/>
<rect x="221.5" y="956.5" width="13" height="13.3" fill="#ff4757" fill-opacity="0.2" stroke="#ff4757" stroke-opacity="0.24" stroke-width="1.1"/>
<rect x="239.5" y="943.5" width="12" height="26.3" fill="#ff4757" fill-opacity="0.2" stroke="#ff4757" stroke-opacity="0.24" stroke-width="1.1"/>
<rect x="257.5" y="937.5" width="12" height="32.3" fill="#ff4757" fill-opacity="0.2" stroke="#ff4757" stroke-opacity="0.24" stroke-width="1.1"/>
<rect x="275.5" y="923.5" width="12" height="46.3" fill="#ff4757" fill-opacity="0.2" stroke="#ff4757" stroke-opacity="0.24" stroke-width="1.1"/>
<rect x="292.5" y="938.5" width="13" height="31.3" fill="#ff4757" fill-opacity="0.2" stroke="#ff4757" stroke-opacity="0.24" stroke-width="1.1"/>
<rect x="310.5" y="934.5" width="13" height="35.3" fill="#00d26a" fill-opacity="0.2" stroke="#00d26a" stroke-opacity="0.24" stroke-width="1.1"/>
<rect x="328.5" y="937.5" width="13" height="32.3" fill="#ff4757" fill-opacity="0.2" stroke="#ff4757" stroke-opacity="0.24" stroke-width="1.1"/>
<rect x="346.5" y="919.5" width="12" height="50.3" fill="#ff4757" fill-opacity="0.2" stroke="#ff4757" stroke-opacity="0.24" stroke-width="1.1"/>
<rect x="364.5" y="891.5" width="12" height="78.3" fill="#ff4757" fill-opacity="0.2" stroke="#ff4757" stroke-opacity="0.24" stroke-width="1.1"/>
<rect x="382.5" y="892.5" width="12" height="77.3" fill="#00d26a" fill-opacity="0.2" stroke="#00d26a" stroke-opacity="0.24" stroke-width="1.1"/>
<rect x="399.5" y="938.5" width="13" height="31.3" fill="#00d26a" fill-opacity="0.2" stroke="#00d26a" stroke-opacity="0.24" stroke-width="1.1"/>
<rect x="417.5" y="950.5" width="13" height="19.3" fill="#ff4757" fill-opacity="0.2" stroke="#ff4757" stroke-opacity="0.24" stroke-width="1.1"/>
<rect x="435.5" y="943.5" width="12" height="26.3" fill="#ff4757" fill-opacity="0.2" stroke="#ff4757" stroke-opacity="0.24" stroke-width="1.1"/>
<rect x="453.5" y="948.5" width="12" height="21.3" fill="#ff4757" fill-opacity="0.2" stroke="#ff4757" stroke-opacity="0.24" stroke-width="1.1"/>
<rect x="471.5" y="939.5" width="12" height="30.3" fill="#ff4757" fill-opacity="0.2" stroke="#ff4757" stroke-opacity="0.24" stroke-width="1.1"/>
<rect x="488.5" y="944.5" width="13" height="25.3" fill="#ff4757" fill-opacity="0.2" stroke="#ff4757" stroke-opacity="0.24" stroke-width="1.1"/>
<rect x="506.5" y="945.5" width="13" height="24.3" fill="#00d26a" fill-opacity="0.2" stroke="#00d26a" stroke-opacity="0.24" stroke-width="1.1"/>
<rect x="524.5" y="953.5" width="13" height="16.3" fill="#00d26a" fill-opacity="0.2" stroke="#00d26a" stroke-opacity="0.24" stroke-width="1.1"/>
<rect x="542.5" y="944.5" width="12" height="25.3" fill="#ff4757" fill-opacity="0.2" stroke="#ff4757" stroke-opacity="0.24" stroke-width="1.1"/>
<rect x="560.5" y="947.5" width="12" height="22.3" fill="#00d26a" fill-opacity="0.2" stroke="#00d26a" stroke-opacity="0.24" stroke-width="1.1"/>
<rect x="578.5" y="949.5" width="12" height="20.3" fill="#ff4757" fill-opacity="0.2" stroke="#ff4757" stroke-opacity="0.24" stroke-width="1.1"/>
<rect x="595.5" y="949.5" width="13" height="20.3" fill="#ff4757" fill-opacity="0.2" stroke="#ff4757" stroke-opacity="0.24" stroke-width="1.1"/>
<rect x="613.5" y="952.5" width="13" height="17.3" fill="#00d26a" fill-opacity="0.2" stroke="#00d26a" stroke-opacity="0.24" stroke-width="1.1"/>
<rect x="631.5" y="945.5" width="12" height="24.3" fill="#00d26a" fill-opacity="0.2" stroke="#00d26a" stroke-opacity="0.24" stroke-width="1.1"/>
<rect x="649.5" y="958.5" width="12" height="11.3" fill="#00d26a" fill-opacity="0.2" stroke="#00d26a" stroke-opacity="0.24" stroke-width="1.1"/>
<rect x="667.5" y="958.5" width="12" height="11.3" fill="#ff4757" fill-opacity="0.2" stroke="#ff4757" stroke-opacity="0.24" stroke-width="1.1"/>
<rect x="684.5" y="934.5" width="13" height="35.3" fill="#ff4757" fill-opacity="0.2" stroke="#ff4757" stroke-opacity="0.24" stroke-width="1.1"/>
<rect x="702.5" y="946.5" width="13" height="23.3" fill="#00d26a" fill-opacity="0.2" stroke="#00d26a" stroke-opacity="0.24" stroke-width="1.1"/>
<rect x="720.5" y="931.5" width="13" height="38.3" fill="#00d26a" fill-opacity="0.2" stroke="#00d26a" stroke-opacity="0.24" stroke-width="1.1"/>
<rect x="738.5" y="946.5" width="12" height="23.3" fill="#ff4757" fill-opacity="0.2" stroke="#ff4757" stroke-opacity="0.24" stroke-width="1.1"/>
<rect x="756.5" y="943.5" width="12" height="26.3" fill="#ff4757" fill-opacity="0.2" stroke="#ff4757" stroke-opacity="0.24" stroke-width="1.1"/>
<rect x="773.5" y="937.5" width="13" height="32.3" fill="#00d26a" fill-opacity="0.2" stroke="#00d26a" stroke-opacity="0.24" stroke-width="1.1"/>
<rect x="791.5" y="939.5" width="13" height="30.3" fill="#ff4757" fill-opacity="0.2" stroke="#ff4757" stroke-opacity="0.24" stroke-width="1.1"/>
<rect x="809.5" y="936.5" width="13" height="33.3" fill="#00d26a" fill-opacity="0.2" stroke="#00d26a" stroke-opacity="0.24" stroke-width="1.1"/>
<rect x="827.5" y="939.5" width="12" height="30.3" fill="#00d26a" fill-opacity="0.2" stroke="#00d26a" stroke-opacity="0.24" stroke-width="1.1"/>
<rect x="845.5" y="931.5" width="12" height="38.3" fill="#00d26a" fill-opacity="0.2" stroke="#00d26a" stroke-opacity="0.24" stroke-width="1.1"/>
<rect x="863.5" y="944.5" width="12" height="25.3" fill="#ff4757" fill-opacity="0.2" stroke="#ff4757" stroke-opacity="0.24" stroke-width="1.1"/>
<rect x="880.5" y="946.5" width="13" height="23.3" fill="#ff4757" fill-opacity="0.2" stroke="#ff4757" stroke-opacity="0.24" stroke-width="1.1"/>
<rect x="898.5" y="959.5" width="13" height="10.3" fill="#ff4757" fill-opacity="0.2" stroke="#ff4757" stroke-opacity="0.24" stroke-width="1.1"/>
<rect x="916.5" y="951.5" width="13" height="18.3" fill="#ff4757" fill-opacity="0.2" stroke="#ff4757" stroke-opacity="0.24" stroke-width="1.1"/>
<rect x="934.5" y="944.5" width="12" height="25.3" fill="#00d26a" fill-opacity="0.2" stroke="#00d26a" stroke-opacity="0.24" stroke-width="1.1"/>
<rect x="952.5" y="944.5" width="12" height="25.3" fill="#00d26a" fill-opacity="0.2" stroke="#00d26a" stroke-opacity="0.24" stroke-width="1.1"/>
<rect x="969.5" y="946.5" width="13" height="23.3" fill="#00d26a" fill-opacity="0.2" stroke="#00d26a" stroke-opacity="0.24" stroke-width="1.1"/>
<rect x="987.5" y="948.5" width="13" height="21.3" fill="#00d26a" fill-opacity="0.2" stroke="#00d26a" stroke-opacity="0.24" stroke-width="1.1"/>
<rect x="1005.5" y="938.5" width="13" height="31.3" fill="#00d26a" fill-opacity="0.2" stroke="#00d26a" stroke-opacity="0.24" stroke-width="1.1"/>
<rect x="1023.5" y="960.5" width="12" height="9.3" fill="#ff4757" fill-opacity="0.2" stroke="#ff4757" stroke-opacity="0.24" stroke-width="1.1"/>
<rect x="1041.5" y="954.5" width="12" height="15.3" fill="#00d26a" fill-opacity="0.2" stroke="#00d26a" stroke-opacity="0.24" stroke-width="1.1"/>
<rect x="1059.5" y="940.5" width="12" height="29.3" fill="#00d26a" fill-opacity="0.2" stroke="#00d26a" stroke-opacity="0.24" stroke-width="1.1"/>
<rect x="1076.5" y="950.5" width="13" height="19.3" fill="#ff4757" fill-opacity="0.2" stroke="#ff4757" stroke-opacity="0.24" stroke-width="1.1"/>
<rect x="1094.5" y="946.5" width="13" height="23.3" fill="#ff4757" fill-opacity="0.2" stroke="#ff4757" stroke-opacity="0.24" stroke-width="1.1"/>
<rect x="1112.5" y="948.5" width="12" height="21.3" fill="#ff4757" fill-opacity="0.2" stroke="#ff4757" stroke-opacity="0.24" stroke-width="1.1"/>
<rect x="1130.5" y="958.5" width="12" height="11.3" fill="#00d26a" fill-opacity="0.2" stroke="#00d26a" stroke-opacity="0.24" stroke-width="1.1"/>
<rect x="25.1" y="969.8" width="1169.9" height="2" fill="#0d1117"/>
<text x="37.3" y="892.7" font-size="14" font-weight="bold" fill="#8b949e" fill-opacity="0.74" stroke="#8b949e" stroke-opacity="0.74" stroke-width="0.3" textLength="20.2" lengthAdjust="spacingAndGlyphs">Vol</text>
<text x="31.43" y="985.4" font-size="12" fill="#6e7681" text-anchor="middle" textLength="35.8" lengthAdjust="spacingAndGlyphs">Jan 17</text>
<text x="209.59" y="985.4" font-size="12" fill="#6e7681" text-anchor="middle" textLength="35.8" lengthAdjust="spacingAndGlyphs">Jan 27</text>
<text x="387.76" y="985.4" font-size="12" fill="#6e7681" text-anchor="middle" textLength="39.1" lengthAdjust="spacingAndGlyphs">Feb 06</text>
<text x="565.93" y="985.4" font-size="12" fill="#6e7681" text-anchor="middle" textLength="39.1" lengthAdjust="spacingAndGlyphs">Feb 16</text>
<text x="744.1" y="985.4" font-size="12" fill="#6e7681" text-anchor="middle" textLength="39.1" lengthAdjust="spacingAndGlyphs">Feb 26</text>
<text x="922.27" y="985.4" font-size="12" fill="#6e7681" text-anchor="middle" textLength="40.4" lengthAdjust="spacingAndGlyphs">Mar 08</text>
<text x="1100.43" y="985.4" font-size="12" fill="#6e7681" text-anchor="middle" textLength="40.4" lengthAdjust="spacingAndGlyphs">Mar 18</text>
<text x="1273" y="1017.3" font-size="13" font-style="italic" fill="#21262d" text-anchor="end" textLength="81" lengthAdjust="spacingAndGlyphs">cryance.com</text>
</svg>
</body></html>
